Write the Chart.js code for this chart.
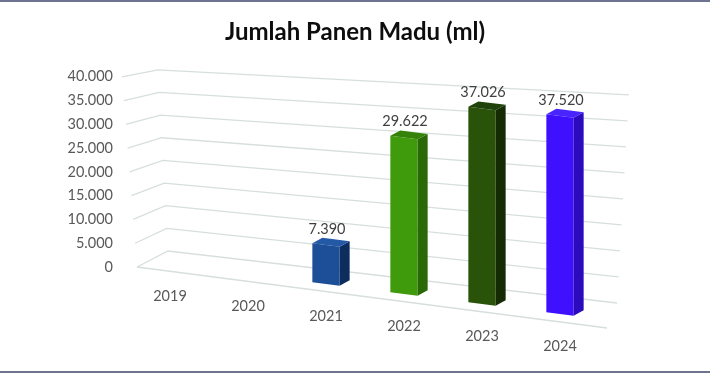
<!DOCTYPE html>
<html>
<head>
<meta charset="utf-8">
<script src="https://cdn.jsdelivr.net/npm/chart.js@4/dist/chart.umd.min.js"></script>
<style>
  html, body { margin: 0; padding: 0; background: #ffffff; }
  #wrap { position: relative; width: 710px; height: 375px; overflow: hidden; }
  #c { position: absolute; left: 0; top: 0; }
  .frame { position: absolute; left: 0; width: 710px; height: 2px; background: #6f7391; }
</style>
</head>
<body>
<div id="wrap">
  <canvas id="c" width="710" height="375"></canvas>
  <div class="frame" style="top:0"></div>
  <div class="frame" style="top:371px"></div>
</div>
<script>
// ---- data ----
const categories = ['2019', '2020', '2021', '2022', '2023', '2024'];
const harvestMl = [null, null, 7390, 29622, 37026, 37520];
const yTicksMin = 0;
const yTicksMax = 40000;
const yTickStep = 5000;

// ---- styles ----
const frontColors = ['#1f4f9a', '#1f4f9a', '#1d4f99', '#3f9b0c', '#285309', '#3e10fe'];
const sideColors  = ['#0c2d5d', '#0c2d5d', '#0c2d5d', '#2a6a06', '#142b03', '#2b0bbd'];
const topColors   = ['#2459a6', '#2459a6', '#2459a6', '#348209', '#1f430a', '#4a24ff'];

const fmt = v => String(Math.round(v)).replace(/\B(?=(\d{3})+(?!\d))/g, '.');

// perspective-like affine projection for the 3D look
const K = 0.128, S = 1.11, DX = 10, DY = -6;
function projF(ca) { return (ca.bottom - 8) - K * ca.left - S * ca.bottom; }
function proj(ca, x, y) { return { x: x, y: K * x + S * y + projF(ca) }; }

const threeD = {
  id: 'threeD',
  beforeDatasetsDraw(chart) {
    const { ctx, chartArea: ca, scales: { y } } = chart;
    ctx.save();
    ctx.strokeStyle = '#d6dfde';
    ctx.lineWidth = 1.3;
    y.ticks.forEach(tk => {
      const v = tk.value;
      const py = y.getPixelForValue(v);
      const t = (v - y.min) / (y.max - y.min);
      const fx = ca.left + 6 - 15 * t;
      const bx = ca.left + 37 - 10 * t, by = py - 16 + 9 * t;
      const rx = ca.right + 18 + 12 * t, ry = py + 36 - 18 * t;
      ctx.beginPath();
      ctx.moveTo(fx, py);
      ctx.lineTo(bx, by);
      ctx.lineTo(rx, ry);
      ctx.stroke();
    });
    const p0 = y.getPixelForValue(0);
    ctx.beginPath();
    ctx.moveTo(ca.left + 6, p0);
    ctx.lineTo(ca.right + 8, p0 + 61);
    ctx.stroke();
    ctx.restore();

    ctx.save();
    ctx.transform(1, K, 0, S, 0, projF(ca));
  },
  afterDatasetsDraw(chart) {
    const { ctx, chartArea: ca, scales: { x, y } } = chart;
    const meta = chart.getDatasetMeta(0);
    const data = chart.data.datasets[0].data;
    meta.data.forEach((bar, i) => {
      if (data[i] == null) return;
      const p = bar.getProps(['x', 'y', 'base', 'width'], true);
      const l = p.x - p.width / 2, r = p.x + p.width / 2;
      ctx.fillStyle = sideColors[i];
      ctx.beginPath();
      ctx.moveTo(r, p.y); ctx.lineTo(r + DX, p.y + DY);
      ctx.lineTo(r + DX, p.base + DY); ctx.lineTo(r, p.base);
      ctx.closePath(); ctx.fill();
      ctx.fillStyle = topColors[i];
      ctx.beginPath();
      ctx.moveTo(l, p.y); ctx.lineTo(l + DX, p.y + DY);
      ctx.lineTo(r + DX, p.y + DY); ctx.lineTo(r, p.y);
      ctx.closePath(); ctx.fill();
    });
    ctx.restore();

    // value labels
    ctx.save();
    ctx.font = '14.5px Lato';
    ctx.fillStyle = '#404040';
    ctx.textAlign = 'center';
    ctx.textBaseline = 'middle';
    meta.data.forEach((bar, i) => {
      if (data[i] == null) return;
      const p = bar.getProps(['x', 'y'], true);
      const q = proj(ca, p.x, p.y);
      ctx.fillText(fmt(data[i]), q.x + 1, q.y - 16);
    });
    // category labels
    ctx.fillStyle = '#595959';
    const y0 = y.getPixelForValue(0);
    chart.data.labels.forEach((lab, i) => {
      const px = x.getPixelForValue(i);
      const q = proj(ca, px, y0);
      ctx.fillText(lab, q.x, q.y + 32);
    });
    ctx.restore();
  }
};

new Chart(document.getElementById('c'), {
  type: 'bar',
  data: {
    labels: categories,
    datasets: [{
      label: 'Jumlah Panen Madu (ml)',
      data: harvestMl,
      backgroundColor: frontColors,
      borderWidth: 0,
      barPercentage: 0.35,
      categoryPercentage: 1,
      clip: false,
      yAxisID: 'y'
    }]
  },
  options: {
    responsive: false,
    animation: false,
    layout: { padding: { left: 0, right: 0, top: 0, bottom: 108 } },
    plugins: {
      legend: { display: false },
      tooltip: { enabled: false },
      title: {
        display: true,
        text: 'Jumlah Panen Madu (ml)',
        color: '#0d0d0d',
        font: { family: 'Lato', size: 24, weight: 'bold' },
        padding: { top: 18, bottom: 30 }
      }
    },
    scales: {
      x: { display: false },
      y: {
        min: yTicksMin,
        max: yTicksMax,
        grid: { display: false, drawTicks: false },
        border: { display: false },
        ticks: {
          stepSize: yTickStep,
          color: '#595959',
          font: { family: 'Lato', size: 14.5 },
          padding: 18,
          callback: v => fmt(v)
        },
        afterFit(scale) { scale.width = 131; }
      },
      yRight: {
        position: 'right',
        display: true,
        min: yTicksMin,
        max: yTicksMax,
        grid: { display: false, drawTicks: false },
        border: { display: false },
        ticks: { display: false },
        afterFit(scale) { scale.width = 111; }
      }
    }
  },
  plugins: [threeD]
});
</script>
</body>
</html>
